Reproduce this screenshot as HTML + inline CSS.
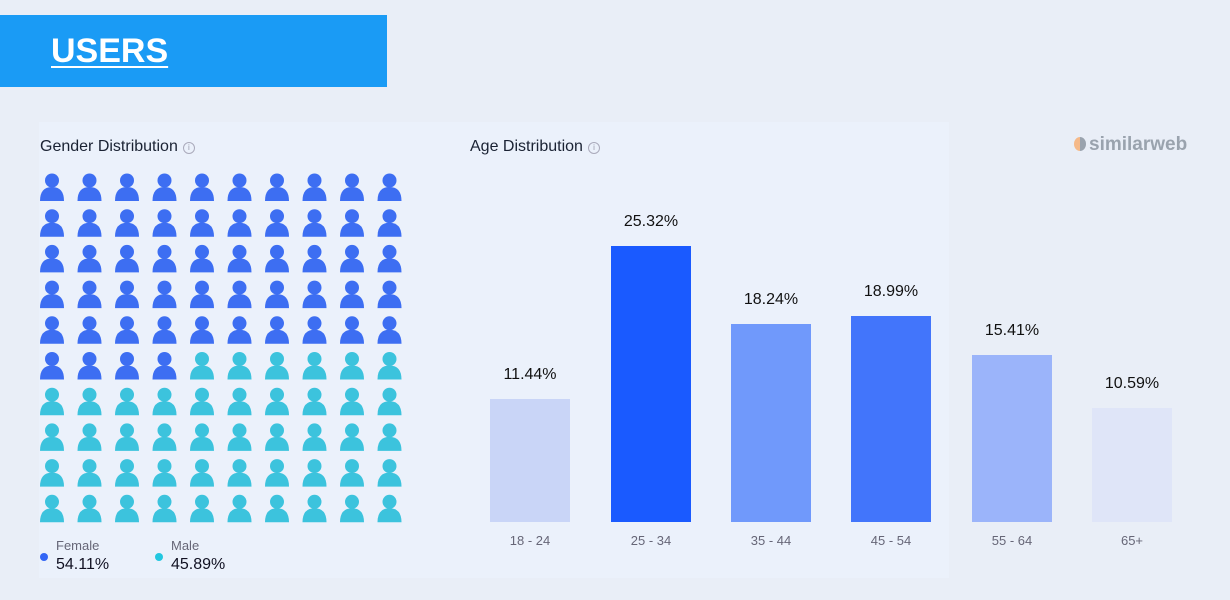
<!DOCTYPE html>
<html><head><meta charset="utf-8"><style>
body{margin:0;width:1230px;height:600px;background:#e9eef7;font-family:"Liberation Sans",sans-serif;position:relative;overflow:hidden}
.a{position:absolute}
.banner{left:0;top:15px;width:387px;height:72px;background:#1a9bf5}
.banner span{position:absolute;left:51px;top:17px;color:#fff;font-weight:bold;font-size:34px;text-decoration:underline;text-decoration-thickness:2px;text-underline-offset:4px}
.panel{left:39px;top:122px;width:910px;height:456px;background:#ebf1fb}
.t{font-size:16px;color:#1a2233}
.info{display:inline-block;width:10px;height:10px;border:1px solid #aab;border-radius:50%;font-size:8px;color:#99a;text-align:center;line-height:10px;vertical-align:1px;margin-left:5px}
.bar{width:80px;bottom:78px}
.v{font-size:16px;color:#111;width:80px;text-align:center}
.x{font-size:13px;color:#667;width:80px;text-align:center;top:533px}
</style></head><body>
<div class="a banner"><span>USERS</span></div>
<div class="a panel"></div>
<div class="a t" style="left:40px;top:138px">Gender Distribution<span class="info">i</span></div>
<div class="a t" style="left:470px;top:138px">Age Distribution<span class="info">i</span></div>
<div class="a" style="left:1074px;top:134px;font-size:19px;font-weight:bold;color:#9aa3ae"><span style="display:inline-block;width:12px;height:14px;border-radius:50%;background:linear-gradient(90deg,#f5b989 50%,#9aa3ae 50%);vertical-align:-1px;margin-right:3px"></span>similarweb</div>
<svg class="a" style="left:0;top:0" width="420" height="600">
<defs>
<g id="p"><circle cx="12" cy="7.5" r="7"/><path d="M0 28 Q0 14 12 14 Q24 14 24 28 Z"/></g>
</defs>
<g id="grid"></g>
</svg>
<div class="a" style="left:40px;top:553px;width:8px;height:8px;border-radius:50%;background:#3366f5"></div>
<div class="a" style="left:56px;top:538px;font-size:13px;color:#667">Female</div>
<div class="a" style="left:56px;top:556px;font-size:16px;color:#112">54.11%</div>
<div class="a" style="left:155px;top:553px;width:8px;height:8px;border-radius:50%;background:#22c7e0"></div>
<div class="a" style="left:171px;top:538px;font-size:13px;color:#667">Male</div>
<div class="a" style="left:171px;top:556px;font-size:16px;color:#112">45.89%</div>

<div class="a bar" style="left:490px;height:123px;background:#c9d5f7"></div>
<div class="a bar" style="left:611px;height:276px;background:#1a5aff"></div>
<div class="a bar" style="left:731px;height:198px;background:#7099fb"></div>
<div class="a bar" style="left:851px;height:206px;background:#4275fb"></div>
<div class="a bar" style="left:972px;height:167px;background:#9bb4fa"></div>
<div class="a bar" style="left:1092px;height:114px;background:#dfe5f8"></div>
<div class="a v" style="left:490px;top:366px">11.44%</div>
<div class="a v" style="left:611px;top:213px">25.32%</div>
<div class="a v" style="left:731px;top:291px">18.24%</div>
<div class="a v" style="left:851px;top:283px">18.99%</div>
<div class="a v" style="left:972px;top:322px">15.41%</div>
<div class="a v" style="left:1092px;top:375px">10.59%</div>
<div class="a x" style="left:490px">18 - 24</div>
<div class="a x" style="left:611px">25 - 34</div>
<div class="a x" style="left:731px">35 - 44</div>
<div class="a x" style="left:851px">45 - 54</div>
<div class="a x" style="left:972px">55 - 64</div>
<div class="a x" style="left:1092px">65+</div>
<script>
var g=document.getElementById('grid'),s='';
for(var r=0;r<10;r++)for(var c=0;c<10;c++){var i=r*10+c;var x=40+c*37.5,y=173+r*35.7;
s+='<use href="#p" x="'+x+'" y="'+y+'" fill="'+(i<54?'#3d6ef2':'#3cc3dd')+'"/>';}
g.innerHTML=s;
</script>
</body></html>
